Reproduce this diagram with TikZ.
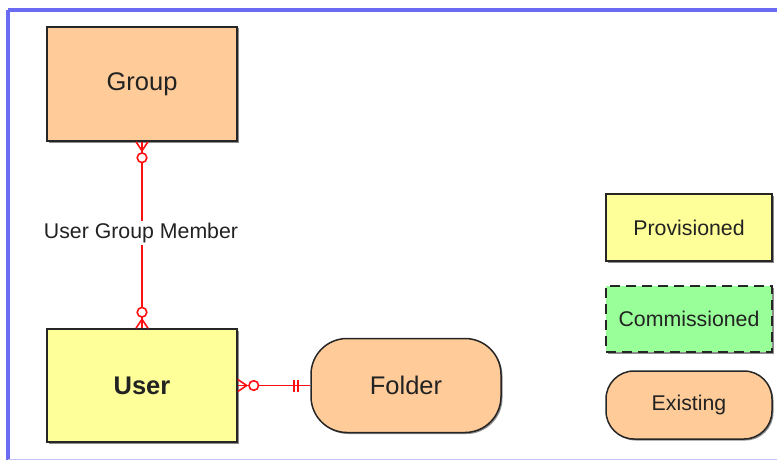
\documentclass[tikz,border=0pt]{standalone}
\usepackage{fontspec}
\setmainfont{Liberation Sans}
\usetikzlibrary{calc,shadows}
\definecolor{peach}{HTML}{FFCC99}
\definecolor{lyellow}{HTML}{FFFF99}
\definecolor{lgreen}{HTML}{99FF99}
\definecolor{framblue}{HTML}{6A6AF2}
\definecolor{relred}{HTML}{FF1010}
\definecolor{txt}{HTML}{222222}
\tikzset{
  x=1pt,y=-1pt,
  box/.style={draw=black!85,line width=1.5pt,inner sep=0pt,text=txt,
    drop shadow={shadow xshift=1.5pt,shadow yshift=-1.5pt,opacity=0.45,fill=black}},
  big/.style={font=\fontsize{25.5}{30}\selectfont},
  small/.style={font=\fontsize{21.3}{25}\selectfont},
  rel/.style={draw=relred,line width=1.6pt},
  relc/.style={draw=relred,line width=1.6pt,fill=white},
}
\begin{document}
\begin{tikzpicture}
\useasboundingbox (0,0) rectangle (777,460);
\draw[framblue,line width=3.2pt] (8,10) -- (800,10);
\draw[framblue,line width=3.2pt] (8,10) -- (8,470);
\draw[framblue!40,line width=2pt] (8,459.5) -- (800,459.5);
% main entities
\node[box,fill=peach,minimum width=190pt,minimum height=114pt,big] (group) at (142,84) {Group};
\node[box,fill=lyellow,minimum width=190pt,minimum height=113pt,big] (user) at (142,385.5) {\bfseries User};
\node[box,fill=peach,rounded corners=36pt,minimum width=190pt,minimum height=94pt,big] (folder) at (406,385.5) {Folder};
% legend
\node[box,fill=lyellow,minimum width=166pt,minimum height=67pt,small] (prov) at (689,227.5) {Provisioned};
\node[box,fill=lgreen,dash pattern=on 10pt off 6pt,line width=2.2pt,minimum width=166pt,minimum height=66pt,small] (comm) at (689,319) {Commissioned};
\node[box,fill=peach,rounded corners=28pt,minimum width=166pt,minimum height=68pt,small] (exist) at (689,405) {Existing};
% relation group - user
\draw[rel] (group.south) -- (user.north);
\node[fill=white,inner sep=2pt,small,text=txt] (ugm) at (141,233) {User Group Member};
% crow's foot + circle at group
\draw[rel] ($(group.south)+(-6,0)$) -- ($(group.south)+(0,9)$) -- ($(group.south)+(6,0)$);
\draw[relc] ($(group.south)+(0,16)$) circle (4.8);
% crow's foot + circle at user top
\draw[rel] ($(user.north)+(-6,0)$) -- ($(user.north)+(0,-9)$) -- ($(user.north)+(6,0)$);
\draw[relc] ($(user.north)+(0,-16)$) circle (4.8);
% relation user - folder
\draw[rel] (user.east) -- (folder.west);
\draw[rel] ($(user.east)+(0,-6)$) -- ($(user.east)+(9,0)$) -- ($(user.east)+(0,6)$);
\draw[relc] ($(user.east)+(16,0)$) circle (4.8);
\draw[rel] ($(folder.west)+(-16,-6)$) -- ($(folder.west)+(-16,6)$);
\draw[rel] ($(folder.west)+(-12,-6)$) -- ($(folder.west)+(-12,6)$);
\end{tikzpicture}
\end{document}
